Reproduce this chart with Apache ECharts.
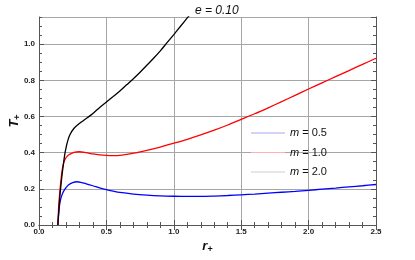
<!DOCTYPE html>
<html><head><meta charset="utf-8">
<script src="https://cdn.jsdelivr.net/npm/echarts@6/dist/echarts.min.js"></script>
<style>html,body{margin:0;padding:0;background:#fff}#c{width:415px;height:260px}</style>
</head><body><div id="c"></div>
<script>
const seriesNames = ['m = 0.5', 'm = 1.0', 'm = 2.0'];
const xTickLabels = ['0.0', '0.5', '1.0', '1.5', '2.0', '2.5'];
const yTickLabels = ['0.0', '0.2', '0.4', '0.6', '0.8', '1.0'];

const blueX = [0.141,0.145,0.15,0.16,0.17,0.18,0.19,0.2,0.22,0.25,0.28,0.31,0.35,0.4,0.45,0.5,0.55,0.6,0.7,0.8,0.9,1.0,1.1,1.2,1.3,1.4,1.5,1.6,1.7,1.8,1.9,2.0,2.1,2.2,2.3,2.4,2.5];
const blueY = [0,0.05,0.095,0.14,0.165,0.183,0.196,0.206,0.222,0.234,0.239,0.236,0.228,0.217,0.205,0.195,0.187,0.18,0.171,0.165,0.161,0.159,0.158,0.158,0.16,0.163,0.167,0.171,0.176,0.181,0.186,0.192,0.198,0.204,0.211,0.217,0.224];

const redX = [0.141,0.146,0.156,0.169,0.18,0.193,0.21,0.226,0.26,0.3,0.35,0.4,0.45,0.5,0.55,0.6,0.7,0.8,0.9,1.0,1.1,1.2,1.3,1.4,1.5,1.6,1.7,1.8,1.9,2.0,2.1,2.2,2.3,2.4,2.5];
const redY = [0,0.103,0.196,0.289,0.335,0.363,0.381,0.39,0.402,0.405,0.4,0.393,0.388,0.385,0.384,0.385,0.397,0.413,0.431,0.452,0.474,0.498,0.524,0.553,0.584,0.615,0.648,0.682,0.717,0.752,0.786,0.82,0.854,0.888,0.922];

const blackX = [0.139,0.145,0.15,0.155,0.16,0.17,0.18,0.19,0.2,0.213,0.23,0.26,0.29,0.33,0.36,0.4,0.45,0.5,0.55,0.6,0.65,0.7,0.75,0.8,0.85,0.9,0.95,1.0,1.05,1.1,1.15];
const blackY = [0,0.06,0.11,0.16,0.2,0.27,0.33,0.385,0.425,0.465,0.5,0.535,0.556,0.578,0.594,0.617,0.65,0.68,0.71,0.741,0.775,0.809,0.845,0.883,0.922,0.963,1.008,1.053,1.099,1.145,1.19];

const lineColors = ['#0000ff', '#ff0000', '#000000'];
const legendColors = ['#a8a8f2', '#ffb0b0', '#cfcfcf'];

function pairs(xs, ys) { return xs.map((x, i) => [x, ys[i]]); }

const chart = echarts.init(document.getElementById('c'), null, {renderer: 'canvas'});
const FONT = 'Liberation Sans';
const gridLine = {show: true, lineStyle: {color: '#a6a6a6', width: 1}};
const axLine = {show: true, lineStyle: {color: '#555', width: 1}};
const lbl = {color: '#222', fontSize: 8, fontWeight: 'bold', fontFamily: FONT};

const option = {
  animation: false,
  backgroundColor: '#fff',
  title: {
    text: 'e = 0.10', left: 190, top: 0,
    textStyle: {fontSize: 12, fontStyle: 'italic', fontWeight: 'normal', color: '#111', fontFamily: FONT}
  },
  grid: {left: 39, right: 39, top: 17, bottom: 35, containLabel: false, outerBoundsMode: 'none'},
  legend: {
    orient: 'vertical', left: 246, top: 121, itemWidth: 34, itemHeight: 1, itemGap: 5.5,
    icon: 'rect',
    data: seriesNames.map((n, i) => ({name: n, icon: 'rect', itemStyle: {color: legendColors[i]}})),
    formatter: n => '{i|m}' + n.slice(1),
    textStyle: {fontSize: 11, lineHeight: 14, color: '#111', fontFamily: FONT,
      rich: {i: {fontStyle: 'italic', fontSize: 11, fontFamily: FONT}}}
  },
  xAxis: [
    {type: 'value', position: 'bottom', min: 0, max: 2.5, interval: 0.5,
     axisLine: axLine, splitLine: gridLine,
     axisTick: {inside: true, length: 5, lineStyle: {color: '#555'}},
     minorTick: {show: true, splitNumber: 5, length: 3, lineStyle: {color: '#555'}},
     axisLabel: Object.assign({margin: 3, formatter: v => xTickLabels.find(t => Math.abs(parseFloat(t) - v) < 1e-6) || ''}, lbl),
     name: '{r|r}{s|+}', nameLocation: 'middle', nameGap: 13, nameMoveOverlap: false,
     nameTextStyle: {rich: {
       r: {fontSize: 13, fontStyle: 'italic', fontWeight: 'bold', color: '#111', fontFamily: FONT},
       s: {fontSize: 9, fontWeight: 'bold', color: '#111', padding: [7, 0, 0, 0], fontFamily: FONT}}}
    },
    {type: 'value', position: 'top', min: 0, max: 2.5, interval: 0.5,
     axisLine: axLine, splitLine: {show: false}, axisLabel: {show: false},
     axisTick: {inside: true, length: 5, lineStyle: {color: '#555'}},
     minorTick: {show: true, splitNumber: 5, length: 3, lineStyle: {color: '#555'}}}
  ],
  yAxis: [
    {type: 'value', position: 'left', min: 0, max: 1.15, interval: 0.2,
     axisLine: axLine, splitLine: gridLine,
     axisTick: {inside: true, length: 5, lineStyle: {color: '#555'}},
     axisLabel: Object.assign({margin: 4, showMaxLabel: false, formatter: v => yTickLabels.find(t => Math.abs(parseFloat(t) - v) < 1e-6) || ''}, lbl),
     name: '{t|T}{s|+}', nameLocation: 'middle', nameGap: 17, nameRotate: 90, nameMoveOverlap: false,
     nameTextStyle: {rich: {
       t: {fontSize: 13, fontStyle: 'italic', fontWeight: 'bold', color: '#111', fontFamily: FONT},
       s: {fontSize: 9, fontWeight: 'bold', color: '#111', padding: [7, 0, 0, 0], fontFamily: FONT}}}
    },
    {type: 'value', position: 'left', min: 0, max: 1.15, interval: 0.05,
     axisLine: {show: false}, splitLine: {show: false}, axisLabel: {show: false},
     axisTick: {inside: true, length: 3, lineStyle: {color: '#555'}}},
    {type: 'value', position: 'right', min: 0, max: 1.15, interval: 0.05,
     axisLine: axLine, splitLine: {show: false}, axisLabel: {show: false},
     axisTick: {inside: true, length: 3, lineStyle: {color: '#555'}}},
    {type: 'value', position: 'right', min: 0, max: 1.15, interval: 0.2,
     axisLine: {show: false}, splitLine: {show: false}, axisLabel: {show: false},
     axisTick: {inside: true, length: 5, lineStyle: {color: '#555'}}}
  ],
  series: [
    {name: seriesNames[0], type: 'line', data: pairs(blueX, blueY)},
    {name: seriesNames[1], type: 'line', data: pairs(redX, redY)},
    {name: seriesNames[2], type: 'line', data: pairs(blackX, blackY)}
  ].map((s, i) => Object.assign(s, {
    xAxisIndex: 0, yAxisIndex: 0, showSymbol: false, symbol: 'none', smooth: 0.3, clip: true,
    color: lineColors[i], lineStyle: {color: lineColors[i], width: 1.3}, z: 3
  }))
};
chart.setOption(option);
</script></body></html>
